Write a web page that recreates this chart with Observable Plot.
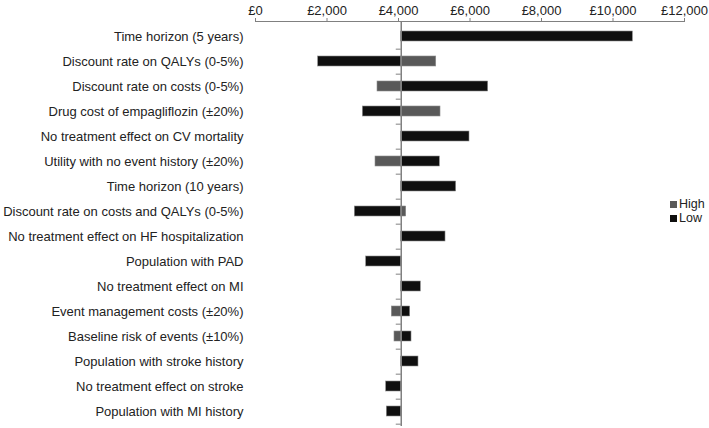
<!DOCTYPE html>
<html>
<head>
<meta charset="utf-8">
<script src="https://cdn.jsdelivr.net/npm/d3@7"></script>
<script src="https://cdn.jsdelivr.net/npm/@observablehq/plot@0.6"></script>
<style>
  html, body { margin: 0; padding: 0; background: #fff; }
  #wrap { position: relative; width: 709px; height: 428px; font-family: "Liberation Sans", Arial, sans-serif; }
  #legend { position: absolute; left: 670px; top: 197px; font-size: 12.5px; color: #222; line-height: 14px; }
  #legend div { display: flex; align-items: center; height: 14px; margin: 0; }
  #legend span.sw { display: inline-block; width: 7px; height: 7px; margin-right: 2px; }
</style>
</head>
<body>
<div id="wrap">
  <div id="chart"></div>
  <div id="legend"></div>
</div>
<script>
// ---- Data ----
const categories = [
  "Time horizon (5 years)",
  "Discount rate on QALYs (0-5%)",
  "Discount rate on costs (0-5%)",
  "Drug cost of empagliflozin (±20%)",
  "No treatment effect on CV mortality",
  "Utility with no event history (±20%)",
  "Time horizon (10 years)",
  "Discount rate on costs and QALYs (0-5%)",
  "No treatment effect on HF hospitalization",
  "Population with PAD",
  "No treatment effect on MI",
  "Event management costs (±20%)",
  "Baseline risk of events (±10%)",
  "Population with stroke history",
  "No treatment effect on stroke",
  "Population with MI history"
];
const baseCase = 4077;
const highValues = [null, 5055, 3413, 5175, null, 3357, null, 4215, null, null, null, 3814, 3888, null, null, null];
const lowValues  = [10555, 1753, 6508, 3003, 5986, 5156, 5613, 2778, 5315, 3096, 4625, 4327, 4364, 4559, 3655, 3673];
const seriesNames = ["High", "Low"];
const seriesColors = ["#595959", "#0f0f0f"];
const xTicks = [0, 2000, 4000, 6000, 8000, 10000, 12000];

// ---- Build table ----
const rows = [];
categories.forEach((c, i) => {
  if (highValues[i] != null) rows.push({category: c, series: "High", value: highValues[i]});
  if (lowValues[i] != null) rows.push({category: c, series: "Low", value: lowValues[i]});
});

const W = 709, H = 428;
const mTop = 21, mBottom = 2;
const step = (H - mTop - mBottom) / categories.length;

const chart = Plot.plot({
  width: W,
  height: H,
  marginLeft: 255,
  marginRight: 25,
  marginTop: mTop,
  marginBottom: mBottom,
  style: {fontFamily: "'Liberation Sans', Arial, sans-serif", fontSize: "13px", color: "#222", background: "#fff", overflow: "visible"},
  x: {domain: [0, 12000], label: null},
  y: {domain: categories, paddingInner: 0.6, paddingOuter: 0.3, label: null},
  color: {domain: seriesNames, range: seriesColors},
  marks: [
    Plot.barX(rows, {y: "category", x1: () => baseCase, x2: "value", fill: "series", stroke: "#8c8c8c", strokeWidth: 0.6}),
    Plot.ruleX([baseCase], {stroke: "#808080", strokeWidth: 1.5}),
    Plot.ruleY(categories, {y: d => d, x1: baseCase, x2: baseCase, insetLeft: -5, dy: step / 2, stroke: "#808080", strokeWidth: 1}),
    Plot.frame({anchor: "top", stroke: "#808080", strokeWidth: 1}),
    Plot.axisX({anchor: "top", label: null, ticks: xTicks, tickFormat: d => "£" + d3.format(",")(d), tickSize: 4, tickPadding: 3, stroke: "#808080", fill: "#222", fontSize: 13}),
    Plot.axisY({anchor: "left", label: null, tickSize: 0, tickPadding: 12, fill: "#222", fontSize: 13})
  ]
});
document.getElementById("chart").appendChild(chart);

const legend = document.getElementById("legend");
seriesNames.forEach((s, i) => {
  const d = document.createElement("div");
  d.innerHTML = `<span class="sw" style="background:${seriesColors[i]}"></span>${s}`;
  legend.appendChild(d);
});
</script>
</body>
</html>
